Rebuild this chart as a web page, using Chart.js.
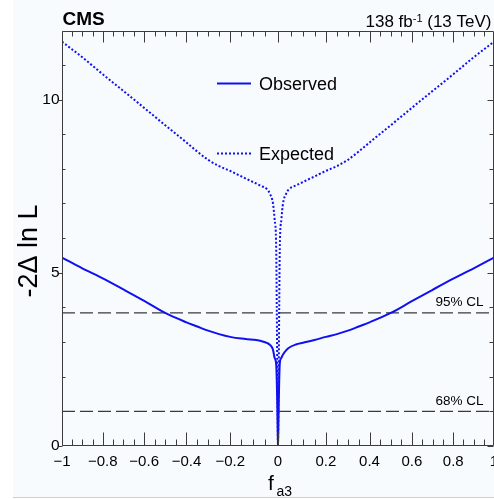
<!DOCTYPE html>
<html>
<head>
<meta charset="utf-8">
<script src="https://cdn.jsdelivr.net/npm/chart.js@4.4.0/dist/chart.umd.min.js"></script>
<style>
    html, body { margin: 0; padding: 0; background: #ffffff; overflow: hidden; }
    canvas { display: block; }
</style>
</head>
<body>
<canvas id="nllChart" width="494" height="499"></canvas>
<script>
// Du lieu doc tu hinh
const fa3Values = [-1, -0.9, -0.8, -0.7, -0.6, -0.5, -0.4, -0.35, -0.3, -0.25, -0.2, -0.15, -0.1, -0.07, -0.04, -0.03, -0.018, -0.012, -0.006, -0.004, -0.0025, -0.001,
    0, 0.001, 0.0025, 0.004, 0.006, 0.012, 0.018, 0.03, 0.04, 0.07, 0.1, 0.15, 0.2, 0.25, 0.3, 0.35, 0.4, 0.5, 0.6, 0.7, 0.8, 0.9, 1];
const observedValues = [5.44, 5.13, 4.84, 4.52, 4.19, 3.84, 3.57, 3.45, 3.33, 3.23, 3.15, 3.10, 3.07, 3.04, 2.97, 2.92, 2.78, 2.55, 2.35, 1.90, 1.30, 0.50,
    0, 0.50, 1.30, 1.90, 2.38, 2.55, 2.64, 2.76, 2.83, 2.93, 2.98, 3.06, 3.15, 3.23, 3.33, 3.45, 3.57, 3.84, 4.18, 4.51, 4.83, 5.13, 5.44];
const expectedValues = [11.67, 11.22, 10.73, 10.25, 9.76, 9.26, 8.76, 8.50, 8.26, 8.08, 7.94, 7.78, 7.62, 7.52, 7.40, 7.28, 7.00, 6.55, 5.70, 4.00, 2.50, 1.00,
    0, 1.00, 2.50, 4.00, 5.70, 6.55, 7.00, 7.28, 7.40, 7.52, 7.62, 7.78, 7.94, 8.08, 8.26, 8.50, 8.76, 9.26, 9.76, 10.25, 10.73, 11.22, 11.67];
const clLevels = [1.0, 3.84];
const clLabels = ['68% CL', '95% CL'];
const xTickValues = [-1, -0.8, -0.6, -0.4, -0.2, 0, 0.2, 0.4, 0.6, 0.8, 1];
const xTickLabels = ['\u22121', '\u22120.8', '\u22120.6', '\u22120.4', '\u22120.2', '0', '0.2', '0.4', '0.6', '0.8', '1'];
const yTickValues = [0, 5, 10];
const yTickLabels = ['0', '5', '10'];
const legendLabels = ['Observed', 'Expected'];

const FONT = '"Liberation Sans", Arial, Helvetica, sans-serif';
const LINE_BLUE = '#1010f0';

// Truc x khong tuyen tinh (gian nhe quanh 0)
const AXIS_POWER = 0.937;
function warp(v) { return Math.sign(v) * Math.pow(Math.abs(v), AXIS_POWER); }
function unwarp(t) { return Math.sign(t) * Math.pow(Math.abs(t), 1 / AXIS_POWER); }

class PowerScale extends Chart.LinearScale {
    getPixelForValue(value) {
        if (value === null || isNaN(value)) return NaN;
        const lo = warp(this.min), hi = warp(this.max);
        return this.getPixelForDecimal((warp(value) - lo) / (hi - lo));
    }
    getValueForPixel(pixel) {
        const lo = warp(this.min), hi = warp(this.max);
        return unwarp(lo + this.getDecimalForPixel(pixel) * (hi - lo));
    }
}
PowerScale.id = 'power';
PowerScale.defaults = Chart.LinearScale.defaults;
Chart.register(PowerScale);

function toPoints(xs, ys) {
    return xs.map((x, i) => ({ x: x, y: ys[i] }));
}

// nen va khung, nhan
const cmsFrame = {
    id: 'cmsFrame',
    beforeDraw(chart) {
        const c = chart.ctx;
        c.save();
        c.fillStyle = '#ffffff';
        c.fillRect(0, 0, chart.width, chart.height);
        c.fillStyle = '#f8fbfd';
        c.fillRect(13, 0, chart.width - 13, 497);
        c.strokeStyle = '#cfcfcf';
        c.lineWidth = 1;
        c.beginPath();
        c.moveTo(13, 497.5);
        c.lineTo(chart.width, 497.5);
        c.stroke();
        c.restore();
    },
    afterDraw(chart) {
        const c = chart.ctx;
        const xs = chart.scales.x, ys = chart.scales.y;
        const { left, right, top, bottom } = chart.chartArea;
        const L = Math.round(left) + 0.5, R = Math.round(right) - 0.5;
        const T = Math.round(top) - 0.5, B = Math.round(bottom) - 0.5;
        c.save();
        c.strokeStyle = '#3c3c3c';
        c.lineWidth = 1;

        // khung
        c.beginPath();
        c.moveTo(L, T); c.lineTo(R, T); c.lineTo(R, B); c.lineTo(L, B); c.closePath();
        c.stroke();

        // vach truc x
        c.beginPath();
        for (let i = -20; i <= 20; i++) {
            const px = Math.round(xs.getPixelForValue(i * 0.05)) + 0.5;
            const major = i % 4 === 0;
            c.moveTo(px, B); c.lineTo(px, B - (major ? 13 : 6));
            c.moveTo(px, T); c.lineTo(px, T + (major ? 11 : 5));
        }
        // vach truc y
        for (let v = 0; v <= 11; v++) {
            const py = Math.round(ys.getPixelForValue(v)) + 0.5;
            if (v % 5 === 0) {
                c.moveTo(L - 4, py); c.lineTo(L, py);
                c.moveTo(R, py); c.lineTo(R - 6, py);
            } else {
                c.moveTo(L, py); c.lineTo(L + 3, py);
                c.moveTo(R, py); c.lineTo(R - 4, py);
            }
        }
        c.stroke();

        c.fillStyle = '#000000';
        // nhan truc x
        c.font = '15px ' + FONT;
        c.textAlign = 'center';
        c.textBaseline = 'alphabetic';
        xTickValues.forEach((v, i) => {
            c.fillText(xTickLabels[i], xs.getPixelForValue(v), 466);
        });
        // nhan truc y
        c.font = '15.5px ' + FONT;
        c.textAlign = 'right';
        c.textBaseline = 'middle';
        yTickValues.forEach((v, i) => {
            c.fillText(yTickLabels[i], 59.5, ys.getPixelForValue(v));
        });

        // tieu de truc x: f_a3
        c.textBaseline = 'alphabetic';
        c.textAlign = 'left';
        c.font = '21px ' + FONT;
        c.fillText('f', 268, 490);
        c.font = '14px ' + FONT;
        c.fillText('a3', 276.5, 496);

        // tieu de truc y
        c.save();
        c.translate(36.5, 251);
        c.rotate(-Math.PI / 2);
        c.textAlign = 'center';
        c.font = '27px ' + FONT;
        c.fillText('-2\u0394 ln L', 0, 0);
        c.restore();

        // CMS
        c.font = 'bold 19px ' + FONT;
        c.textAlign = 'left';
        c.fillText('CMS', 62.5, 24.5);

        // 138 fb-1 (13 TeV)
        const partA = '138 fb', partSup = '-1', partB = ' (13 TeV)';
        c.font = '17px ' + FONT;
        const wA = c.measureText(partA).width, wB = c.measureText(partB).width;
        c.font = '11px ' + FONT;
        const wS = c.measureText(partSup).width;
        let x0 = 491.5 - (wA + wS + wB);
        c.font = '17px ' + FONT;
        c.fillText(partA, x0, 26.5);
        c.font = '11px ' + FONT;
        c.fillText(partSup, x0 + wA, 21.5);
        c.font = '17px ' + FONT;
        c.fillText(partB, x0 + wA + wS, 26.5);

        // nhan CL
        c.font = '13.5px ' + FONT;
        c.textAlign = 'right';
        clLevels.forEach((lv, i) => {
            c.fillText(clLabels[i], 483.5, ys.getPixelForValue(lv) - 6.5);
        });

        // chu giai
        c.textAlign = 'left';
        c.font = '18px ' + FONT;
        const legendY = [83.5, 153.5];
        legendLabels.forEach((label, i) => {
            const ds = chart.data.datasets[i];
            c.strokeStyle = ds.borderColor;
            c.lineWidth = ds.borderWidth;
            c.setLineDash(ds.borderDash || []);
            c.beginPath();
            c.moveTo(217, legendY[i]); c.lineTo(251, legendY[i]);
            c.stroke();
            c.setLineDash([]);
            c.fillText(label, 259, legendY[i] + 6.5);
        });
        c.restore();
    }
};

const ctxNll = document.getElementById('nllChart').getContext('2d');
const nllChart = new Chart(ctxNll, {
    type: 'scatter',
    data: {
        datasets: [{
            label: legendLabels[0],
            data: toPoints(fa3Values, observedValues),
            showLine: true,
            borderColor: LINE_BLUE,
            borderWidth: 2,
            pointRadius: 0,
            cubicInterpolationMode: 'monotone'
        }, {
            label: legendLabels[1],
            data: toPoints(fa3Values, expectedValues),
            showLine: true,
            borderColor: LINE_BLUE,
            borderWidth: 2,
            borderDash: [2, 2],
            pointRadius: 0,
            cubicInterpolationMode: 'monotone'
        }, {
            label: clLabels[0],
            data: [{ x: -1, y: clLevels[0] }, { x: 1, y: clLevels[0] }],
            showLine: true,
            borderColor: '#3a3a3a',
            borderWidth: 1.2,
            borderDash: [13, 5],
            pointRadius: 0
        }, {
            label: clLabels[1],
            data: [{ x: -1, y: clLevels[1] }, { x: 1, y: clLevels[1] }],
            showLine: true,
            borderColor: '#3a3a3a',
            borderWidth: 1.2,
            borderDash: [13, 5],
            pointRadius: 0
        }]
    },
    options: {
        responsive: false,
        animation: false,
        devicePixelRatio: 1,
        layout: { padding: { left: 62, top: 32, right: 0, bottom: 53 } },
        plugins: {
            legend: { display: false },
            tooltip: { enabled: false }
        },
        scales: {
            x: { type: 'power', min: -1, max: 1, display: false },
            y: { type: 'linear', min: 0, max: 11.95, display: false }
        }
    },
    plugins: [cmsFrame]
});
</script>
</body>
</html>
